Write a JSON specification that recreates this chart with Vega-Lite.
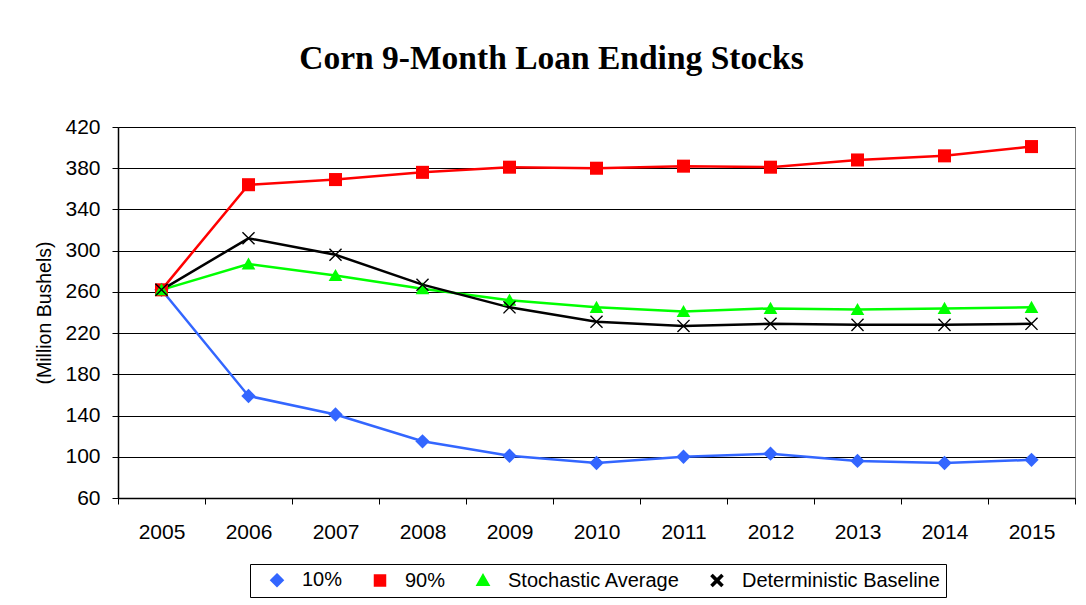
{
  "$schema": "https://vega.github.io/schema/vega-lite/v6.json",
  "width": 957,
  "height": 371,
  "autosize": {"type": "none"},
  "padding": {"left": 118, "top": 127, "right": 11, "bottom": 107},
  "background": "white",
  "title": {
    "text": "Corn 9-Month Loan Ending Stocks",
    "font": "Liberation Serif",
    "fontSize": 33.5,
    "fontWeight": "bold",
    "color": "black",
    "anchor": "middle",
    "dx": -45,
    "baseline": "alphabetic",
    "offset": 14
  },
  "config": {
    "view": {"stroke": "#808080", "strokeWidth": 1},
    "font": "Liberation Sans",
    "axis": {"labelFont": "Liberation Sans", "titleFont": "Liberation Sans", "labelColor": "black", "titleColor": "black", "domainColor": "black", "tickColor": "black", "gridColor": "black", "gridOpacity": 1},
    "legend": {"strokeWidth": 1}
  },
  "data": {
    "values": [
      {"year": 2005, "series": "10%", "value": 262},
      {"year": 2006, "series": "10%", "value": 159},
      {"year": 2007, "series": "10%", "value": 141},
      {"year": 2008, "series": "10%", "value": 115},
      {"year": 2009, "series": "10%", "value": 101},
      {"year": 2010, "series": "10%", "value": 94},
      {"year": 2011, "series": "10%", "value": 100},
      {"year": 2012, "series": "10%", "value": 103},
      {"year": 2013, "series": "10%", "value": 96},
      {"year": 2014, "series": "10%", "value": 94},
      {"year": 2015, "series": "10%", "value": 97},
      {"year": 2005, "series": "90%", "value": 262},
      {"year": 2006, "series": "90%", "value": 364},
      {"year": 2007, "series": "90%", "value": 369},
      {"year": 2008, "series": "90%", "value": 376},
      {"year": 2009, "series": "90%", "value": 381},
      {"year": 2010, "series": "90%", "value": 380},
      {"year": 2011, "series": "90%", "value": 382},
      {"year": 2012, "series": "90%", "value": 381},
      {"year": 2013, "series": "90%", "value": 388},
      {"year": 2014, "series": "90%", "value": 392},
      {"year": 2015, "series": "90%", "value": 401},
      {"year": 2005, "series": "Stochastic Average", "value": 262},
      {"year": 2006, "series": "Stochastic Average", "value": 287},
      {"year": 2007, "series": "Stochastic Average", "value": 276},
      {"year": 2008, "series": "Stochastic Average", "value": 263},
      {"year": 2009, "series": "Stochastic Average", "value": 252},
      {"year": 2010, "series": "Stochastic Average", "value": 245},
      {"year": 2011, "series": "Stochastic Average", "value": 241},
      {"year": 2012, "series": "Stochastic Average", "value": 244},
      {"year": 2013, "series": "Stochastic Average", "value": 243},
      {"year": 2014, "series": "Stochastic Average", "value": 244},
      {"year": 2015, "series": "Stochastic Average", "value": 245},
      {"year": 2005, "series": "Deterministic Baseline", "value": 262},
      {"year": 2006, "series": "Deterministic Baseline", "value": 312},
      {"year": 2007, "series": "Deterministic Baseline", "value": 296},
      {"year": 2008, "series": "Deterministic Baseline", "value": 267},
      {"year": 2009, "series": "Deterministic Baseline", "value": 245},
      {"year": 2010, "series": "Deterministic Baseline", "value": 231},
      {"year": 2011, "series": "Deterministic Baseline", "value": 227},
      {"year": 2012, "series": "Deterministic Baseline", "value": 229},
      {"year": 2013, "series": "Deterministic Baseline", "value": 228},
      {"year": 2014, "series": "Deterministic Baseline", "value": 228},
      {"year": 2015, "series": "Deterministic Baseline", "value": 229}
    ]
  },
  "encoding": {
    "x": {
      "field": "year",
      "type": "quantitative",
      "scale": {"domain": [2004.5, 2015.5], "nice": false, "zero": false},
      "axis": {
        "title": null,
        "values": [2004.5, 2005.5, 2006.5, 2007.5, 2008.5, 2009.5, 2010.5, 2011.5, 2012.5, 2013.5, 2014.5, 2015.5],
        "labelExpr": "datum.value > 2015 ? '' : '' + (datum.value + 0.5)",
        "labelOffset": 43.5,
        "labelFontSize": 21,
        "labelPadding": 17,
        "labelOverlap": false,
        "labelFlush": false,
        "labelBound": false,
        "tickSize": 6,
        "grid": false,
        "domainWidth": 1.5
      }
    },
    "y": {
      "field": "value",
      "type": "quantitative",
      "scale": {"domain": [60, 420], "nice": false, "zero": false},
      "axis": {
        "title": "(Million Bushels)",
        "titleFontSize": 19.5,
        "titleFontWeight": "normal",
        "titlePadding": 10,
        "values": [60, 100, 140, 180, 220, 260, 300, 340, 380, 420],
        "labelFontSize": 21,
        "labelPadding": 12,
        "tickSize": 6,
        "grid": true,
        "gridWidth": 1,
        "domainWidth": 1.5
      }
    }
  },
  "layer": [
    {
      "mark": {"type": "line", "strokeWidth": 2.5},
      "encoding": {
        "color": {
          "field": "series",
          "type": "nominal",
          "sort": ["10%", "90%", "Stochastic Average", "Deterministic Baseline"],
          "scale": {
            "domain": ["10%", "90%", "Stochastic Average", "Deterministic Baseline"],
            "range": ["#3366FF", "#FF0000", "#00FF00", "#000000"]
          },
          "legend": {
            "title": null,
            "orient": "none",
            "legendX": 132,
            "legendY": 437,
            "direction": "horizontal",
            "strokeColor": "black",
            "fillColor": "white",
            "padding": 6,
            "labelFont": "Liberation Sans",
            "labelFontSize": 20,
            "labelColor": "black",
            "labelLimit": 0,
            "columnPadding": 16,
            "symbolSize": 100,
            "symbolOffset": 11,
            "labelOffset": 15,
            "encode": {
              "symbols": {
                "update": {
                  "shape": {"signal": "datum.value === '10%' ? 'M0,-1L1,0L0,1L-1,0Z M-4.2,0H4.2' : datum.value === '90%' ? 'M-0.85,-0.85H0.85V0.85H-0.85Z M-4.2,0H4.2' : datum.value === 'Stochastic Average' ? 'M0,-0.95L1,0.8H-1Z M-4.2,0H4.2' : 'M-1.2,-1.2L1.2,1.2M1.2,-1.2L-1.2,1.2 M-4.2,0H4.2'"},
                  "fill": {"signal": "scale('color', datum.value)"},
                  "stroke": {"signal": "scale('color', datum.value)"},
                  "strokeWidth": {"value": 2.5}
                }
              }
            }
          }
        }
      }
    },
    {
      "mark": {"type": "point", "filled": true, "opacity": 1, "size": 170},
      "encoding": {
        "color": {
          "field": "series",
          "type": "nominal",
          "sort": ["10%", "90%", "Stochastic Average", "Deterministic Baseline"],
          "scale": {
            "domain": ["10%", "90%", "Stochastic Average", "Deterministic Baseline"],
            "range": ["#3366FF", "#FF0000", "#00FF00", "#000000"]
          },
          "legend": null
        },
        "shape": {
          "field": "series",
          "type": "nominal",
          "sort": ["10%", "90%", "Stochastic Average", "Deterministic Baseline"],
          "scale": {
            "domain": ["10%", "90%", "Stochastic Average", "Deterministic Baseline"],
            "range": [
              "M0,-1.1L1.1,0L0,1.1L-1.1,0Z",
              "M-1,-1H1V1H-1Z",
              "M0,-1L1.05,0.85H-1.05Z",
              "M-1,-0.85L-0.85,-1L0,-0.15L0.85,-1L1,-0.85L0.15,0L1,0.85L0.85,1L0,0.15L-0.85,1L-1,0.85L-0.15,0Z"
            ]
          },
          "legend": null
        }
      }
    }
  ]
}
